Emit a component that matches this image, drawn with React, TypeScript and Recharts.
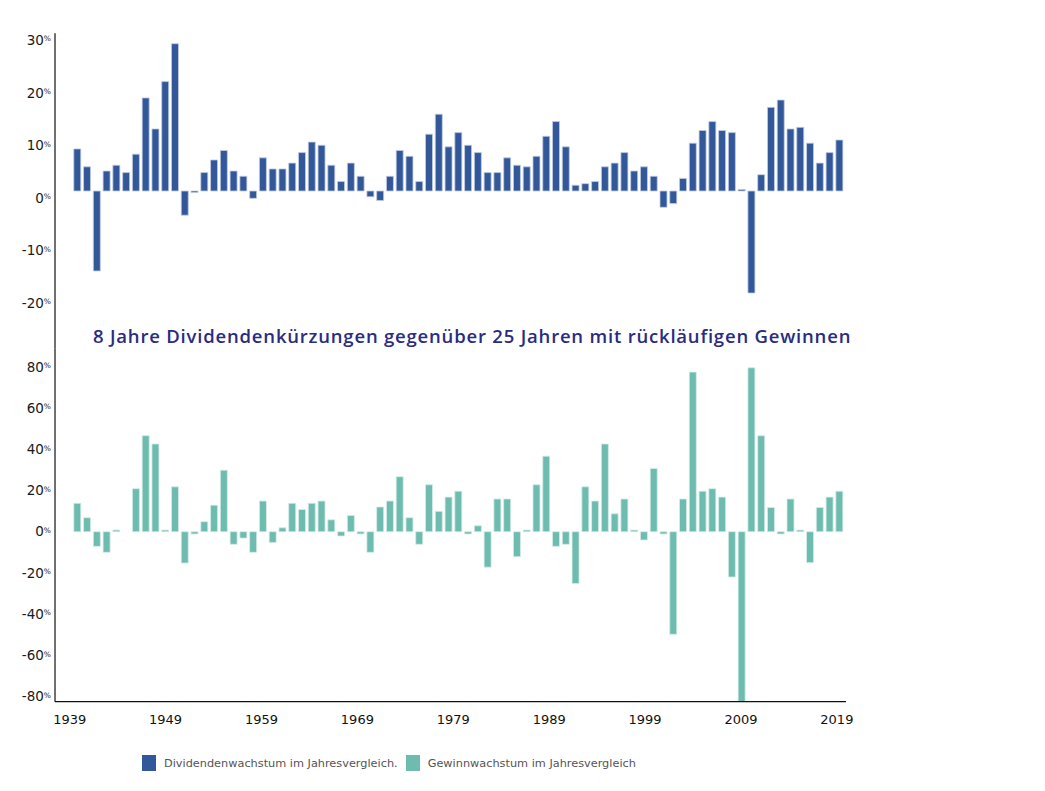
import React from "react";
import { BarChart, Bar, XAxis, YAxis } from "recharts";

// one bar per year, 1940-2018
const years = [
  1940, 1941, 1942, 1943, 1944, 1945, 1946, 1947, 1948, 1949,
  1950, 1951, 1952, 1953, 1954, 1955, 1956, 1957, 1958, 1959,
  1960, 1961, 1962, 1963, 1964, 1965, 1966, 1967, 1968, 1969,
  1970, 1971, 1972, 1973, 1974, 1975, 1976, 1977, 1978, 1979,
  1980, 1981, 1982, 1983, 1984, 1985, 1986, 1987, 1988, 1989,
  1990, 1991, 1992, 1993, 1994, 1995, 1996, 1997, 1998, 1999,
  2000, 2001, 2002, 2003, 2004, 2005, 2006, 2007, 2008, 2009,
  2010, 2011, 2012, 2013, 2014, 2015, 2016, 2017, 2018,
];

// Dividendenwachstum (%)
const dividendGrowth = [
  8.0, 4.6, -15.2, 3.8, 4.9, 3.5, 7.0, 17.7, 11.8, 20.8,
  28.0, -4.6, -0.3, 3.5, 5.9, 7.7, 3.8, 2.8, -1.4, 6.3,
  4.2, 4.2, 5.3, 7.3, 9.3, 8.7, 4.9, 1.8, 5.3, 2.8,
  -1.1, -1.8, 2.8, 7.7, 6.6, 1.8, 10.8, 14.6, 8.4, 11.1,
  8.7, 7.3, 3.5, 3.5, 6.3, 4.9, 4.6, 6.6, 10.4, 13.2,
  8.4, 1.1, 1.4, 1.8, 4.6, 5.3, 7.3, 3.8, 4.6, 2.8,
  -3.1, -2.4, 2.4, 9.1, 11.5, 13.2, 11.5, 11.1, 0.3, -19.4,
  3.1, 15.9, 17.3, 11.8, 12.1, 9.1, 5.3, 7.3, 9.7,
];

// Gewinnwachstum (%)
const earningsGrowth = [
  13.8, 6.8, -7.1, -10.0, 0.8, 0, 20.9, 46.6, 42.6, 0.8,
  21.8, -15.2, -1.1, 4.9, 12.9, 29.9, -6.1, -3.1, -10.0, 14.9,
  -5.2, 1.9, 13.8, 10.8, 13.8, 14.9, 5.8, -2.1, 7.9, -1.1,
  -10.0, 12.0, 14.9, 26.7, 6.8, -6.1, 22.8, 9.9, 16.8, 19.7,
  -1.1, 2.9, -17.2, 15.9, 15.9, -12.1, 0.8, 22.8, 36.7, -7.1,
  -6.1, -25.1, 21.8, 14.9, 42.6, 8.7, 15.9, 0.8, -4.0, 30.7,
  -1.1, -49.8, 15.9, 77.5, 19.7, 20.9, 16.8, -22.0, -82.5, 79.6,
  46.6, 11.8, -1.1, 15.9, 0.8, -15.0, 11.8, 16.8, 19.7,
];

const topTicks = [30, 20, 10, 0, -10, -20];
const bottomTicks = [80, 60, 40, 20, 0, -20, -40, -60, -80];
const yearTicks = [1939, 1949, 1959, 1969, 1979, 1989, 1999, 2009, 2019];

const legendItems = [
  { label: "Dividendenwachstum im Jahresvergleich.", color: "#32589a" },
  { label: "Gewinnwachstum im Jahresvergleich", color: "#6dbcaf" },
];

const title =
  "8 Jahre Dividendenkürzungen gegenüber 25 Jahren mit rückläufigen Gewinnen";

const FONT = '"DejaVu Sans", Verdana, sans-serif';
const BLUE = "#32589a";
const TEAL = "#6dbcaf";

const dividendData = years.map((year, i) => ({ year, v: dividendGrowth[i] }));
const earningsData = years.map((year, i) => ({ year, v: earningsGrowth[i] }));

const PercentTick = ({ x, y, payload, shift = 0 }: any) => (
  <text
    x={x}
    y={y + shift}
    dy="0.35em"
    textAnchor="end"
    fontFamily={FONT}
    fontSize={13.5}
    fill="#1a1a1a"
  >
    <tspan>{payload.value}</tspan>
    <tspan fontSize={7.5} dy={-3.5}>
      %
    </tspan>
  </text>
);

export default function App() {
  return (
    <div
      style={{
        position: "relative",
        width: 1037,
        height: 783,
        background: "#fff",
        fontFamily: FONT,
      }}
    >
      <div style={{ position: "absolute", left: 0, top: 0 }}>
        <BarChart
          width={900}
          height={345}
          data={dividendData}
          margin={{ top: 25.2, right: 62, bottom: 4.2, left: 0 }}
        >
          <XAxis
            xAxisId="bars"
            dataKey="year"
            type="number"
            domain={[1937.68, 2018.64]}
            allowDataOverflow
            height={0}
            hide
          />
          <YAxis
            type="number"
            domain={[-30, 30]}
            ticks={topTicks}
            interval={0}
            allowDataOverflow
            width={47}
            axisLine={{ stroke: "#111", strokeWidth: 1.2 }}
            tickLine={false}
            tickSize={0}
            tickMargin={4}
            tick={(p: any) => <PercentTick {...p} shift={7} />}
          />
          <Bar
            xAxisId="bars"
            dataKey="v"
            fill={BLUE}
            stroke="#c3cde2"
            strokeWidth={0.8}
            barSize={7}
            isAnimationActive={false}
          />
        </BarChart>
      </div>

      <div style={{ position: "absolute", left: 0, top: 330 }}>
        <BarChart
          width={900}
          height={393.7}
          data={earningsData}
          margin={{ top: 10.8, right: 62, bottom: 0, left: 0 }}
        >
          <XAxis
            xAxisId="lbl"
            dataKey="year"
            type="number"
            domain={[1937.47, 2019.95]}
            ticks={yearTicks}
            interval={0}
            allowDataOverflow
            height={30}
            axisLine={{ stroke: "#111", strokeWidth: 1.2 }}
            tickLine={false}
            tickSize={0}
            tickMargin={13}
            tick={{ fontSize: 13, fill: "#111", fontFamily: FONT }}
          />
          <XAxis
            xAxisId="bars"
            dataKey="year"
            type="number"
            domain={[1937.68, 2018.64]}
            allowDataOverflow
            height={0}
            hide
          />
          <YAxis
            type="number"
            domain={[-82.5, 88.8]}
            ticks={bottomTicks}
            interval={0}
            allowDataOverflow
            width={47}
            axisLine={{ stroke: "#111", strokeWidth: 1.2 }}
            tickLine={false}
            tickSize={0}
            tickMargin={4}
            tick={(p: any) => <PercentTick {...p} />}
          />
          <Bar
            xAxisId="bars"
            dataKey="v"
            fill={TEAL}
            stroke="#d5ece7"
            strokeWidth={0.8}
            barSize={7}
            isAnimationActive={false}
          />
        </BarChart>
      </div>

      <div
        style={{
          position: "absolute",
          left: 85,
          top: 317,
          fontFamily: '"Open Sans", sans-serif',
          fontSize: 18.5,
          fontWeight: 600,
          letterSpacing: 0.8,
          color: "#2a2c80",
          whiteSpace: "nowrap",
          lineHeight: "22px",
        }}
      >
        {title}
      </div>

      <div
        style={{
          position: "absolute",
          left: 134,
          top: 747,
          display: "flex",
          alignItems: "center",
          fontSize: 11.3,
          color: "#555",
        }}
      >
        {legendItems.map((item) => (
          <div
            key={item.label}
            style={{ display: "flex", alignItems: "center", marginRight: 8 }}
          >
            <span
              style={{
                display: "inline-block",
                width: 14,
                height: 16,
                background: item.color,
                marginRight: 8,
              }}
            />
            <span>{item.label}</span>
          </div>
        ))}
      </div>
    </div>
  );
}
